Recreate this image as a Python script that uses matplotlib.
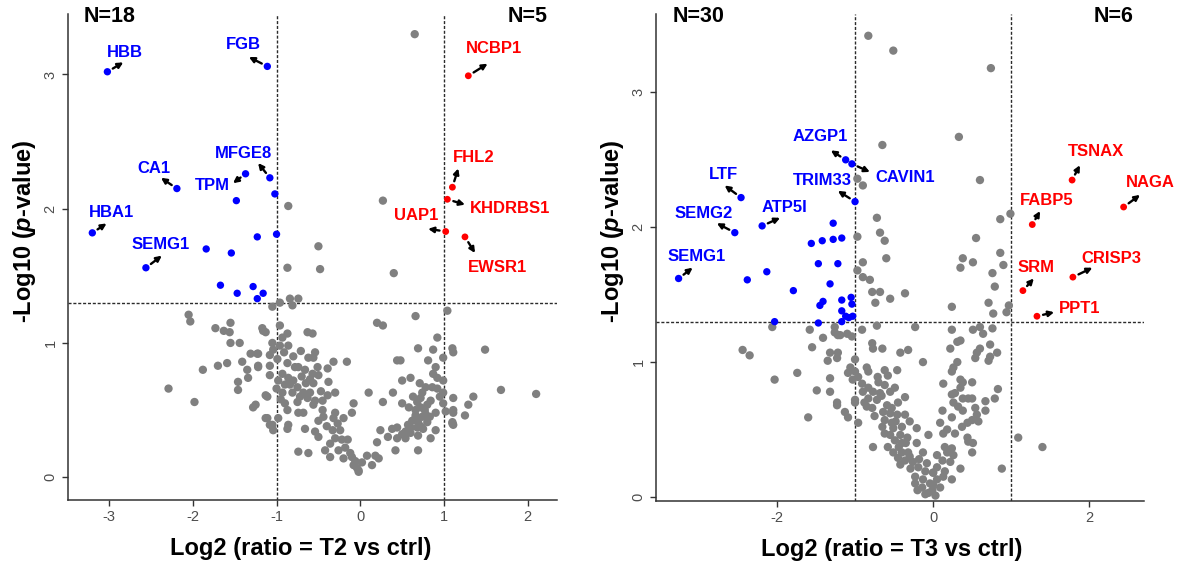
import matplotlib
matplotlib.use('Agg')
import matplotlib.pyplot as plt

plt.rcParams['font.family'] = ['Liberation Sans', 'DejaVu Sans']
plt.rcParams['mathtext.fontset'] = 'custom'
plt.rcParams['mathtext.it'] = 'Liberation Sans:italic:bold'
plt.rcParams['mathtext.rm'] = 'Liberation Sans:bold'
plt.rcParams['axes.unicode_minus'] = False

# ---------------- Panel 1: T2 vs ctrl ----------------
t2_grey = [
    (0.65, 3.30), (-0.86, 2.02), (0.27, 2.06), (-0.50, 1.72), (-0.87, 1.56), (-0.48, 1.55),
    (0.40, 1.52), (-0.84, 1.33), (-0.74, 1.33), (-1.05, 1.27), (-0.96, 1.30), (-0.81, 1.28),
    (1.04, 1.24),
    (-2.05, 1.21), (-2.03, 1.16), (-1.73, 1.11), (-1.63, 1.09), (-1.55, 1.15), (-1.56, 1.08),
    (-1.16, 1.09), (-1.55, 1.00), (-1.44, 1.00), (-1.31, 0.92), (-1.23, 0.92), (-1.41, 0.86),
    (-1.70, 0.83), (-1.59, 0.85), (-1.88, 0.80), (-1.35, 0.80), (-1.22, 0.82), (-1.34, 0.74),
    (-1.46, 0.71), (-1.46, 0.65), (-2.29, 0.66), (-1.98, 0.56), (-1.28, 0.52), (-1.11, 0.60),
    (-1.13, 0.44), (-1.08, 0.39), (-1.04, 0.35), (-0.74, 0.19),
    (-1.17, 1.11), (-1.13, 1.08), (-0.96, 1.13), (-0.87, 1.07), (-0.93, 1.04), (-0.63, 1.08),
    (-0.57, 1.07), (-1.05, 1.00), (-0.96, 0.98), (-0.86, 0.98), (-1.22, 0.92), (-1.08, 0.91),
    (-1.04, 0.95), (-0.62, 0.89), (-0.54, 0.93), (-0.56, 0.89), (-0.32, 0.86), (-0.16, 0.86),
    (-0.87, 0.85), (-0.78, 0.82), (-0.74, 0.82), (-0.51, 0.82), (-0.39, 0.81), (-1.08, 0.83),
    (-1.22, 0.83), (-0.57, 0.77), (-0.50, 0.76), (-0.93, 0.77), (-0.86, 0.74), (-1.08, 0.76),
    (-0.38, 0.71), (-0.56, 0.70), (-0.90, 0.69), (-0.84, 0.69), (-0.75, 0.67), (-0.93, 0.63),
    (-0.81, 0.63), (-0.68, 0.63), (-0.63, 0.59), (-0.30, 0.63), (-0.39, 0.61), (-1.13, 0.61),
    (-1.25, 0.54), (-0.75, 0.56), (-0.54, 0.57), (-0.56, 0.54), (-0.08, 0.55), (-0.10, 0.48),
    (-0.87, 0.50), (-0.74, 0.48), (-0.68, 0.48), (-0.45, 0.50), (-0.44, 0.45), (-0.30, 0.48),
    (-0.32, 0.44), (-0.20, 0.44), (-1.11, 0.44), (-1.05, 0.39), (-0.86, 0.39), (-0.98, 0.44),
    (-0.87, 0.36), (-0.66, 0.36), (-0.54, 0.34), (-0.33, 0.35), (-0.24, 0.35), (-0.50, 0.30),
    (-0.22, 0.28), (-0.30, 0.29), (-0.18, 0.22), (-0.62, 0.18), (-0.42, 0.20), (-0.36, 0.15),
    (-0.20, 0.14), (-0.10, 0.15), (-0.08, 0.09), (-0.02, 0.05), (-0.12, 0.18),
    (-0.98, 0.72), (-0.99, 0.88), (-0.95, 0.58), (-0.70, 0.75), (-0.65, 0.70), (-0.47, 0.64),
    (-0.91, 0.93), (-0.80, 0.90), (-0.71, 0.94), (-0.66, 0.80), (-0.60, 0.73), (-0.80, 0.72),
    (-0.72, 0.60), (-0.60, 0.63), (-0.45, 0.57), (-0.50, 0.42), (-0.40, 0.38), (-0.27, 0.40),
    (-0.36, 0.25), (-0.26, 0.20), (-0.15, 0.28), (-0.06, 0.12), (-1.00, 0.66), (-0.90, 0.55),
    (0.66, 1.20), (0.20, 1.15), (0.27, 1.13), (0.92, 1.04), (0.69, 0.96), (0.87, 0.95),
    (1.10, 0.96), (1.11, 0.93), (0.44, 0.87), (0.48, 0.87), (0.81, 0.87), (0.99, 0.89),
    (0.90, 0.82), (0.87, 0.77), (0.92, 0.74), (0.60, 0.74), (0.50, 0.72), (0.99, 0.72),
    (0.78, 0.67), (0.86, 0.67), (0.92, 0.66), (0.10, 0.63), (0.39, 0.63), (0.74, 0.63),
    (0.99, 0.63), (0.72, 0.59), (0.84, 0.57), (0.68, 0.56), (1.11, 0.59), (0.27, 0.56),
    (0.50, 0.55), (0.72, 0.52), (0.80, 0.54), (0.99, 0.55), (0.66, 0.50), (0.90, 0.48),
    (1.02, 0.49), (1.11, 0.50), (0.66, 0.46), (0.74, 0.45), (0.62, 0.42), (0.69, 0.41),
    (0.80, 0.41), (0.57, 0.39), (0.68, 0.37), (0.75, 0.36), (0.90, 0.35), (1.10, 0.41),
    (1.11, 0.39), (1.25, 0.46), (0.44, 0.37), (0.38, 0.36), (0.24, 0.35), (0.54, 0.34),
    (0.60, 0.33), (0.33, 0.30), (0.44, 0.29), (0.54, 0.29), (0.69, 0.31), (0.84, 0.29),
    (0.20, 0.26), (0.42, 0.20), (0.69, 0.20), (0.08, 0.16), (0.18, 0.16), (0.22, 0.14),
    (0.02, 0.11), (0.14, 0.09), (-0.04, 0.07), (-0.02, 0.04),
    (1.49, 0.95), (1.68, 0.65), (2.10, 0.62), (1.35, 0.60), (1.29, 0.54), (1.11, 0.48),
    (1.10, 0.40), (0.77, 0.50), (0.83, 0.45), (0.63, 0.60), (0.58, 0.52), (0.71, 0.70),
    (0.65, 0.43), (0.72, 0.38), (0.78, 0.47), (0.60, 0.37), (0.50, 0.32), (0.95, 0.60),
]
t2_grey_x = [p[0] for p in t2_grey]
t2_grey_y = [p[1] for p in t2_grey]

t2_down_x = [-3.02, -1.11, -1.08, -1.37, -2.19, -1.48, -1.02, -3.20, -1.23, -1.00,
             -1.84, -1.54, -2.56, -1.67, -1.47, -1.28, -1.16, -1.23]
t2_down_y = [3.02, 3.06, 2.23, 2.26, 2.15, 2.06, 2.11, 1.82, 1.79, 1.81,
             1.70, 1.67, 1.56, 1.43, 1.37, 1.42, 1.37, 1.33]
t2_down_genes = ['HBB', 'FGB', 'MFGE8', 'TPM', 'CA1', '', '', 'HBA1', '', '',
                 '', '', 'SEMG1', '', '', '', '', '']

t2_up_x = [1.29, 1.10, 1.04, 1.02, 1.25]
t2_up_y = [2.99, 2.16, 2.07, 1.83, 1.79]
t2_up_genes = ['NCBP1', 'FHL2', 'KHDRBS1', 'UAP1', 'EWSR1']

# label layout: gene -> (label x, label y, arrow head x, arrow head y)
t2_layout = {
    'HBB': (-2.81, 3.16, -2.83, 3.09), 'FGB': (-1.40, 3.22, -1.33, 3.13),
    'MFGE8': (-1.40, 2.41, -1.22, 2.34), 'TPM': (-1.77, 2.17, -1.52, 2.19),
    'CA1': (-2.47, 2.30, -2.38, 2.23), 'HBA1': (-2.97, 1.97, -3.03, 1.89),
    'SEMG1': (-2.38, 1.73, -2.37, 1.65),
    'NCBP1': (1.60, 3.19, 1.52, 3.08), 'FHL2': (1.35, 2.38, 1.17, 2.30),
    'KHDRBS1': (1.79, 2.00, 1.25, 2.03), 'UAP1': (0.67, 1.95, 0.81, 1.85),
    'EWSR1': (1.64, 1.56, 1.37, 1.67),
}

# ---------------- Panel 2: T3 vs ctrl ----------------
t3_grey = [
    (-0.83, 3.42), (-0.51, 3.31), (0.74, 3.18), (0.33, 2.67), (-0.65, 2.61), (-0.97, 2.36),
    (-0.90, 2.31), (0.60, 2.35), (0.99, 2.10), (0.86, 2.06), (0.55, 1.92), (-0.72, 2.07),
    (-0.68, 1.96), (-0.62, 1.90), (-0.60, 1.77), (-0.97, 1.93), (-0.90, 1.74), (-0.97, 1.68),
    (-0.90, 1.63), (-0.81, 1.61), (-0.78, 1.52), (-0.68, 1.52), (-0.74, 1.44), (-0.55, 1.47),
    (-0.36, 1.51), (0.38, 1.77), (0.51, 1.74), (0.35, 1.70), (0.86, 1.81), (0.90, 1.72),
    (0.76, 1.66), (0.79, 1.56), (0.24, 1.41), (0.71, 1.44), (0.77, 1.36), (0.94, 1.37),
    (0.97, 1.42),
    (-0.72, 1.27), (-0.23, 1.26), (-1.26, 1.22), (-1.19, 1.20), (-1.04, 1.19), (-0.91, 1.24),
    (-0.78, 1.14), (-0.77, 1.10), (-0.65, 1.10), (-0.42, 1.07), (-0.32, 1.09), (-1.22, 1.07),
    (-1.23, 1.03), (-0.13, 1.00), (-1.06, 0.96), (-0.85, 0.96), (-0.83, 0.93), (-0.62, 0.94),
    (-0.46, 0.94), (-1.09, 0.92), (-0.96, 0.89), (-0.71, 0.89), (-1.03, 0.87), (-0.91, 0.84),
    (-0.62, 0.83), (-0.49, 0.81), (-0.83, 0.81), (-0.90, 0.78), (-0.77, 0.78), (-0.68, 0.77),
    (-0.55, 0.78), (-0.36, 0.74), (-0.83, 0.73), (-0.72, 0.72), (-1.23, 0.70), (-1.00, 0.72),
    (-0.85, 0.67), (-0.78, 0.66), (-0.59, 0.68), (-0.53, 0.66), (-0.64, 0.63), (-0.55, 0.62),
    (-0.46, 0.61), (-0.36, 0.61), (-1.13, 0.63), (-1.09, 0.59), (-0.96, 0.55), (-0.62, 0.57),
    (-0.53, 0.55), (-0.65, 0.52), (-0.51, 0.51), (-0.40, 0.52), (-0.21, 0.51), (-0.62, 0.47),
    (-0.55, 0.46), (-0.42, 0.46), (-0.33, 0.44), (-0.49, 0.42), (-0.40, 0.40), (-0.77, 0.37),
    (-0.58, 0.37), (-0.21, 0.40), (-0.51, 0.33), (-0.40, 0.33), (-0.32, 0.33), (-0.13, 0.33),
    (-0.45, 0.29), (-0.36, 0.27), (-0.26, 0.26), (-0.42, 0.24), (-0.19, 0.22), (-0.29, 0.21),
    (-0.10, 0.19), (-0.23, 0.15), (-0.13, 0.13), (-0.23, 0.10), (-0.04, 0.10), (-0.14, 0.07),
    (-0.06, 0.03), (0.00, 0.18), (-0.30, 0.56), (-0.45, 0.70), (-0.70, 0.85), (-0.58, 0.90),
    (-0.48, 0.56), (-0.44, 0.37), (-0.35, 0.40), (-0.30, 0.30), (-0.18, 0.28), (-0.08, 0.25),
    (-0.20, 0.05), (-0.10, 0.02), (-0.66, 0.75), (-0.75, 0.60), (-0.88, 0.70),
    (-2.06, 1.26), (-2.44, 1.09), (-2.35, 1.05), (-2.03, 0.87), (-1.74, 0.92), (-1.60, 0.59),
    (-1.58, 1.24), (-1.55, 1.11), (-1.41, 1.18), (-1.32, 1.07), (-1.35, 1.01), (-1.32, 0.88),
    (-1.49, 0.79), (-1.32, 0.78), (-1.23, 0.68), (-1.22, 1.20), (-1.10, 1.21), (-1.26, 1.26),
    (-1.00, 0.70), (-1.00, 0.93), (-1.00, 1.02),
    (0.24, 1.24), (0.51, 1.24), (0.60, 1.26), (0.64, 1.21), (0.76, 1.25), (0.31, 1.15),
    (0.35, 1.16), (0.22, 1.10), (0.60, 1.10), (0.73, 1.13), (0.56, 1.07), (0.82, 1.07),
    (0.71, 1.01), (0.73, 1.04), (0.54, 1.03), (0.31, 1.00), (0.26, 0.96), (0.24, 0.93),
    (0.13, 0.84), (0.35, 0.87), (0.38, 0.85), (0.50, 0.85), (0.35, 0.81), (0.28, 0.77),
    (0.83, 0.80), (0.24, 0.76), (0.38, 0.73), (0.45, 0.73), (0.50, 0.73), (0.67, 0.71),
    (0.79, 0.73), (0.26, 0.70), (0.32, 0.67), (0.12, 0.64), (0.38, 0.64), (0.54, 0.66),
    (0.67, 0.64), (0.24, 0.59), (0.56, 0.61), (0.50, 0.57), (0.44, 0.55), (0.58, 0.56),
    (0.37, 0.52), (0.09, 0.55), (0.18, 0.50), (0.13, 0.47), (0.28, 0.47), (0.44, 0.44),
    (0.45, 0.41), (0.51, 0.40), (0.50, 0.33), (1.09, 0.44), (1.40, 0.37), (0.15, 0.37),
    (0.24, 0.36), (0.05, 0.31), (0.18, 0.33), (0.26, 0.31), (0.12, 0.27), (0.22, 0.26),
    (0.35, 0.21), (0.05, 0.22), (0.15, 0.19), (0.88, 0.21), (0.00, 0.18), (0.13, 0.15),
    (0.05, 0.13), (0.24, 0.13), (0.00, 0.09), (0.09, 0.07), (-0.01, 0.05), (0.03, 0.01),
    (-0.06, 0.46),
]
t3_grey_x = [p[0] for p in t3_grey]
t3_grey_y = [p[1] for p in t3_grey]

t3_down_x = [-1.12, -1.04, -2.46, -1.00, -2.54, -2.19, -1.28, -1.56, -1.42, -1.28,
             -1.17, -1.47, -1.22, -3.26, -2.38, -2.13, -1.32, -1.79, -1.45, -1.41,
             -1.17, -1.05, -1.04, -1.17, -1.12, -1.03, -1.47, -1.17, -1.08, -2.03]
t3_down_y = [2.50, 2.47, 2.22, 2.19, 1.96, 2.01, 2.03, 1.88, 1.90, 1.91,
             1.92, 1.73, 1.73, 1.62, 1.61, 1.67, 1.58, 1.53, 1.42, 1.45,
             1.46, 1.48, 1.43, 1.38, 1.34, 1.34, 1.29, 1.30, 1.33, 1.30]
t3_down_genes = ['AZGP1', 'CAVIN1', 'LTF', 'TRIM33', 'SEMG2', 'ATP5I'] + [''] * 7 + \
                ['SEMG1'] + [''] * 16

t3_up_x = [1.78, 2.44, 1.27, 1.79, 1.15, 1.33]
t3_up_y = [2.35, 2.15, 2.02, 1.63, 1.53, 1.34]
t3_up_genes = ['TSNAX', 'NAGA', 'FABP5', 'CRISP3', 'SRM', 'PPT1']

t3_layout = {
    'AZGP1': (-1.45, 2.67, -1.31, 2.57), 'CAVIN1': (-0.36, 2.37, -0.81, 2.41),
    'TRIM33': (-1.42, 2.35, -1.22, 2.27), 'LTF': (-2.69, 2.39, -2.67, 2.31),
    'SEMG2': (-2.94, 2.10, -2.77, 2.03), 'ATP5I': (-1.90, 2.15, -1.96, 2.07),
    'SEMG1': (-3.03, 1.78, -3.08, 1.70),
    'TSNAX': (2.09, 2.56, 1.88, 2.46), 'NAGA': (2.78, 2.33, 2.65, 2.24),
    'FABP5': (1.46, 2.20, 1.37, 2.12), 'CRISP3': (2.28, 1.77, 2.04, 1.70),
    'SRM': (1.32, 1.70, 1.29, 1.62), 'PPT1': (1.88, 1.40, 1.55, 1.37),
}

fc_cut = 1.0
p_cut = 1.301

GREY = '#808080'
BLUE = '#0000FF'
RED = '#FF0000'
LINE_C = '#2b2b2b'


def draw_panel(ax, gx, gy, dx, dy, dgenes, ux, uy, ugenes, layout,
               xlim, ylim, xticks, xlabel, n_left_pos, n_right_pos, xlabel_x):
    ax.scatter(gx, gy, s=36, color=GREY, edgecolors='none', zorder=2)
    ax.scatter(dx, dy, s=28, color=BLUE, edgecolors='none', zorder=3)
    ax.scatter(ux, uy, s=24, color=RED, edgecolors='none', zorder=3)
    ls = (0, (2.2, 1.3))
    ax.axvline(-fc_cut, color=LINE_C, lw=1.0, ls=ls, zorder=1)
    ax.axvline(fc_cut, color=LINE_C, lw=1.0, ls=ls, zorder=1)
    ax.axhline(p_cut, color=LINE_C, lw=1.0, ls=ls, zorder=1)

    for xs, ys, genes, col in ((dx, dy, dgenes, BLUE), (ux, uy, ugenes, RED)):
        for x, y, g in zip(xs, ys, genes):
            if not g:
                continue
            lx, ly, hx, hy = layout[g]
            ax.text(lx, ly, g, color=col, fontsize=12, fontweight='bold',
                    ha='center', va='center', zorder=5)
            ax.annotate('', xy=(hx, hy), xytext=(x, y),
                        arrowprops=dict(arrowstyle='-|>', color='black', lw=1.7,
                                        mutation_scale=8, shrinkA=4.5, shrinkB=0),
                        zorder=4)

    ax.text(n_left_pos[0], n_left_pos[1], 'N=%d' % len(dx), fontsize=15.5,
            fontweight='bold', ha='center', va='center')
    ax.text(n_right_pos[0], n_right_pos[1], 'N=%d' % len(ux), fontsize=15.5,
            fontweight='bold', ha='center', va='center')

    ax.set_xlim(*xlim)
    ax.set_ylim(*ylim)
    ax.set_xticks(xticks)
    ax.set_xticklabels([str(t) for t in xticks])
    ax.set_yticks([0, 1, 2, 3])
    ax.set_yticklabels(['0', '1', '2', '3'], rotation=90, va='center')
    for s in ('top', 'right'):
        ax.spines[s].set_visible(False)
    for s in ('left', 'bottom'):
        ax.spines[s].set_color('#333333')
        ax.spines[s].set_linewidth(1.1)
    ax.tick_params(axis='both', colors='#333333', labelcolor='#4d4d4d',
                   labelsize=10.5, length=4, width=1.0, pad=3.5)
    ax.set_xlabel(xlabel, fontsize=17, fontweight='bold', va='center')
    ax.set_ylabel(r'-Log10 ($\mathit{p}$-value)', fontsize=17, fontweight='bold',
                  va='center')
    ax.xaxis.set_label_coords(xlabel_x, -0.099)
    ax.yaxis.set_label_coords(-0.090, 0.553)


fig = plt.figure(figsize=(11.77, 5.68), dpi=100)
ax1 = fig.add_axes([0.0578, 0.1197, 0.4155, 0.8556])
ax2 = fig.add_axes([0.5573, 0.118, 0.4146, 0.857])

draw_panel(ax1, t2_grey_x, t2_grey_y, t2_down_x, t2_down_y, t2_down_genes,
           t2_up_x, t2_up_y, t2_up_genes, t2_layout,
           (-3.49, 2.35), (-0.17, 3.45), [-3, -2, -1, 0, 1, 2],
           'Log2 (ratio = T2 vs ctrl)', (-2.99, 3.43), (2.00, 3.43), 0.476)
draw_panel(ax2, t3_grey_x, t3_grey_y, t3_down_x, t3_down_y, t3_down_genes,
           t3_up_x, t3_up_y, t3_up_genes, t3_layout,
           (-3.55, 2.70), (-0.03, 3.58), [-2, 0, 2],
           'Log2 (ratio = T3 vs ctrl)', (-3.01, 3.56), (2.31, 3.56), 0.484)

fig.savefig('out.png', dpi=100)
